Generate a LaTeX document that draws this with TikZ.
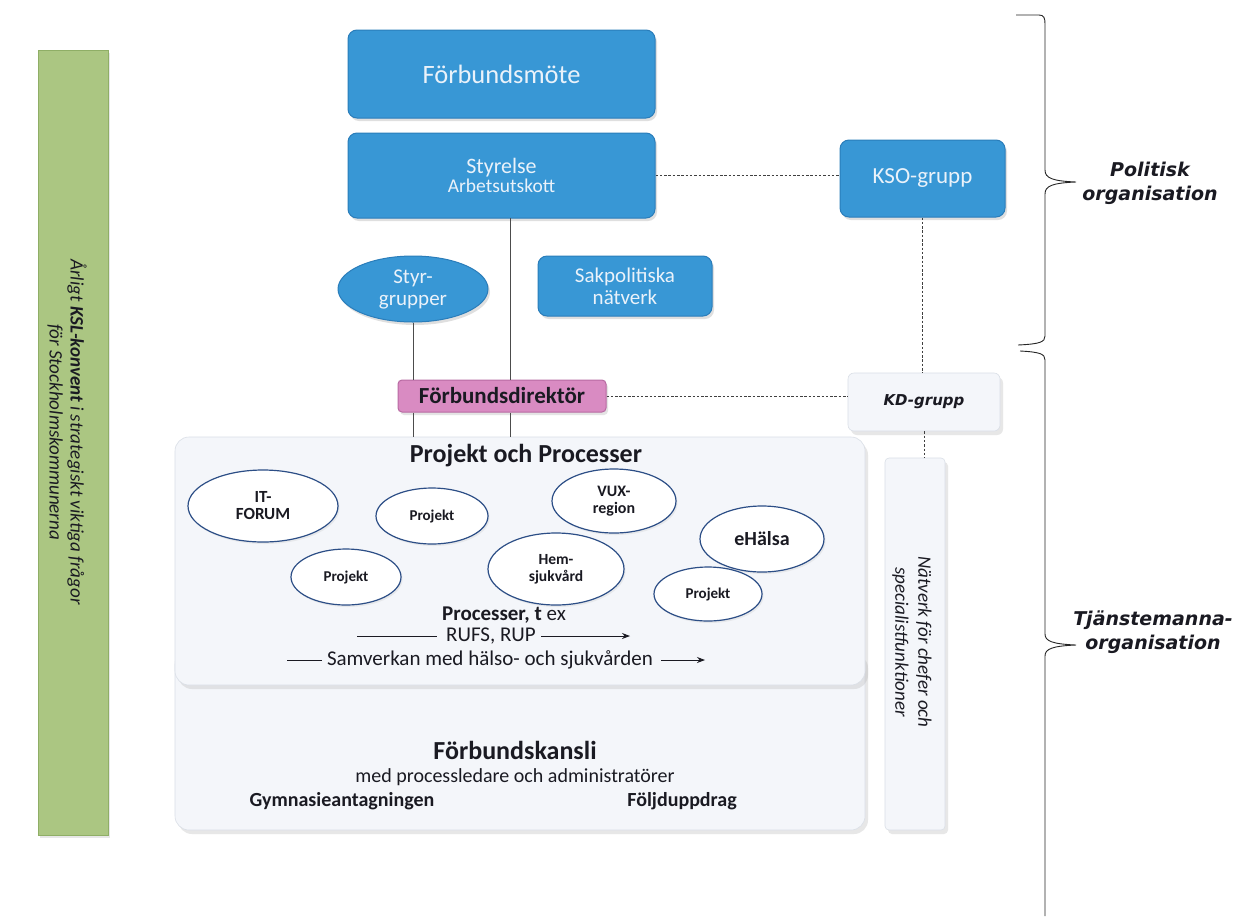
\documentclass[tikz,border=0pt]{standalone}
\usepackage{fontspec}
\setmainfont{Carlito}
\newfontfamily\verd{DejaVu Sans}
\usetikzlibrary{shapes.geometric,arrows.meta,shadows,calc}
\definecolor{boxblue}{HTML}{3897D5}
\definecolor{boxblueedge}{HTML}{2A7DBA}
\definecolor{bluetext}{HTML}{EAF2FA}
\definecolor{greenbar}{HTML}{ABC682}
\definecolor{greenedge}{HTML}{8FAE66}
\definecolor{pinkbox}{HTML}{D98BC2}
\definecolor{pinkedge}{HTML}{B86AA2}
\definecolor{paleface}{HTML}{F4F6FA}
\definecolor{paleedge}{HTML}{DADFE7}
\definecolor{ellline}{HTML}{2C4E86}
\definecolor{inktext}{HTML}{1A1A22}
\begin{document}
\begin{tikzpicture}[x=1pt,y=-1pt,
  bluebox/.style={draw=boxblueedge, line width=1pt, fill=boxblue, rounded corners=9pt,
    text=bluetext, align=center, drop shadow={shadow xshift=2pt, shadow yshift=-3pt, fill=black!35, opacity=0.35}},
  palebox/.style={draw=paleedge, line width=0.6pt, fill=paleface, rounded corners=14pt,
    drop shadow={shadow xshift=3pt, shadow yshift=-4pt, fill=black!30, opacity=0.3}},
  ell/.style={ellipse, draw=ellline, line width=1.2pt, fill=white, align=center,
    inner sep=0pt, font=\bfseries\fontsize{17}{17}\selectfont, text=inktext,
    drop shadow={shadow xshift=1.5pt, shadow yshift=-2pt, fill=black!25, opacity=0.25}},
  projell/.style={ell, font=\bfseries\fontsize{15}{16}\selectfont},
  conn/.style={draw=black!70, line width=0.7pt},
  dconn/.style={draw=black!75, line width=0.7pt, dash pattern=on 2.5pt off 1.8pt},
  procline/.style={draw=inktext, line width=0.9pt},
  procarrow/.style={procline, -{Stealth[length=8pt,width=6pt]}},
  proctext/.style={font=\fontsize{21}{23}\selectfont, text=inktext, inner sep=0pt},
  bracestyle/.style={draw=black!85, line width=0.9pt},
  sidelabel/.style={font=\verd\bfseries\itshape\fontsize{19}{24}\selectfont, text=inktext, align=center}
]
\useasboundingbox[fill=white] (0,0) rectangle (1246,916);

% green bar
\node[draw=greenedge, fill=greenbar, line width=0.8pt, minimum width=70pt, minimum height=785pt,
  inner sep=0pt, drop shadow={shadow xshift=2pt, shadow yshift=-3pt, fill=black!30, opacity=0.3}] (green) at (73,442.5) {};
\node[rotate=-90, align=center, text=inktext, font=\itshape\fontsize{19}{21}\selectfont] (greentext) at (67,432)
  {Årligt \textbf{KSL-konvent} i strategiskt viktiga frågor\\för Stockholmskommunerna};

% lower pale boxes
\node[palebox, minimum width=690pt, minimum height=180pt] (fk) at (520,740) {};
\node[palebox, minimum width=60pt, minimum height=372pt, rounded corners=4pt] (nv) at (915,644) {};
\node[palebox, minimum width=690pt, minimum height=248pt] (pp) at (520,561) {};
\node[palebox, minimum width=152pt, minimum height=58pt, rounded corners=6pt,
  font=\verd\bfseries\itshape\fontsize{15}{17}\selectfont, text=inktext] (kd) at (924,402) {KD-grupp};

\node[rotate=-90, align=center, text=inktext, font=\itshape\fontsize{19}{23}\selectfont] (nvtext) at (912,642)
  {Nätverk för chefer och\\specialistfunktioner};

% blue boxes
\node[bluebox, minimum width=307pt, minimum height=88pt, font=\fontsize{26.5}{30}\selectfont] (fm) at (501.5,74) {Förbundsmöte};
\node[bluebox, minimum width=307pt, minimum height=85pt] (sty) at (501.5,175.5)
  {{\fontsize{22}{22}\selectfont Styrelse}\\[1pt]{\fontsize{19.5}{20}\selectfont Arbetsutskott}};
\node[bluebox, minimum width=165pt, minimum height=77pt, font=\fontsize{23}{26}\selectfont] (kso) at (922.5,178.5) {KSO-grupp};
\node[bluebox, ellipse, rounded corners=0pt, minimum width=150pt, minimum height=66pt, inner sep=0pt,
  font=\fontsize{21}{22}\selectfont] (sg) at (413,289) {Styr-\\grupper};
\node[bluebox, minimum width=174pt, minimum height=60pt, font=\fontsize{21}{22}\selectfont] (sak) at (625,286) {Sakpolitiska\\nätverk};

% Forbundsdirektor
\node[draw=pinkedge, fill=pinkbox, line width=1pt, rounded corners=4pt, minimum width=208pt, minimum height=32pt,
  font=\bfseries\fontsize{23}{25}\selectfont, text=inktext, inner sep=0pt,
  drop shadow={shadow xshift=2pt, shadow yshift=-3pt, fill=black!35, opacity=0.3}] (fd) at (502,396) {Förbundsdirektör};

% connectors
\coordinate (styx) at (510,218);
\draw[conn] (styx) -- (styx |- fd.north);
\draw[conn] (styx |- fd.south) -- (styx |- pp.north);
\draw[conn] (sg.south) -- (sg.south |- fd.north);
\draw[conn] (sg.south |- fd.south) -- (sg.south |- pp.north);
\draw[dconn] (sty.east) -- (sty.east -| kso.west);
\draw[dconn] (kso.south) -- (kso.south |- kd.north);
\draw[dconn] (kd.south) -- (kd.south |- nv.north);
\draw[dconn] (fd.east) -- (fd.east -| kd.west);

% Projekt och Processer content
\node[ell, minimum width=150pt, minimum height=72pt] (itf) at (263,506) {IT-\\FORUM};
\node[projell, minimum width=112pt, minimum height=56pt] (pr1) at (432,516) {Projekt};
\node[ell, minimum width=124pt, minimum height=64pt, font=\bfseries\fontsize{16}{17}\selectfont] (vux) at (614,501) {VUX-\\region};
\node[ell, minimum width=124pt, minimum height=66pt, font=\bfseries\fontsize{20}{22}\selectfont] (eh) at (762,539) {eHälsa};
\node[projell, minimum width=110pt, minimum height=56pt] (pr2) at (346,577) {Projekt};
\node[ell, minimum width=136pt, minimum height=72pt, font=\bfseries\fontsize{15.5}{17}\selectfont] (hem) at (556,569) {Hem-\\sjukvård};
\node[projell, minimum width=108pt, minimum height=54pt] (pr3) at (708,594) {Projekt};
\node[font=\bfseries\fontsize{26}{28}\selectfont, text=inktext, inner sep=0pt] (pptitle) at (526,456) {Projekt och Processer};

\node[proctext] (proc) at (504,615) {\textbf{Processer, t} ex};
\node[proctext] (rufs) at (491,636) {RUFS, RUP};
\coordinate (rufsl) at (357,636);
\coordinate (rufsr) at (630,636);
\draw[procline] (rufsl) -- ([xshift=-9pt]rufs.west);
\draw[procarrow] ([xshift=5pt]rufs.east) -- (rufsr);
\node[proctext] (samv) at (490,660) {Samverkan med hälso- och sjukvården};
\coordinate (samvl) at (287,660);
\coordinate (samvr) at (705,660);
\draw[procline] (samvl) -- ([xshift=-5pt]samv.west);
\draw[procarrow] ([xshift=8pt]samv.east) -- (samvr);

% Forbundskansli content
\node[font=\bfseries\fontsize{26}{28}\selectfont, text=inktext] (fktitle) at (515,750) {Förbundskansli};
\node[font=\fontsize{20}{22}\selectfont, text=inktext] (fksub) at (515,777) {med processledare och administratörer};
\node[font=\bfseries\fontsize{20}{22}\selectfont, text=inktext] (gym) at (342,801) {Gymnasieantagningen};
\node[font=\bfseries\fontsize{20}{22}\selectfont, text=inktext] (folj) at (682,801) {Följduppdrag};

% braces
\draw[bracestyle] (1016,15) -- (1039,15) .. controls (1044,15) and (1045,18) .. (1045,24)
  -- (1045,170) .. controls (1045,178) and (1052,181) .. (1076,182)
  .. controls (1052,183) and (1045,186) .. (1045,194)
  -- (1045,336) .. controls (1045,342) and (1040,344) .. (1018,345);
\draw[bracestyle] (1020,351) .. controls (1040,352) and (1045,354) .. (1045,360)
  -- (1045,634) .. controls (1045,641) and (1052,644) .. (1076,645)
  .. controls (1052,646) and (1045,649) .. (1045,656)
  -- (1045,916);

\node[sidelabel] (pol) at (1150,183) {Politisk\\organisation};
\node[sidelabel] (tj) at (1153,632) {Tjänstemanna-\\organisation};
\end{tikzpicture}
\end{document}
